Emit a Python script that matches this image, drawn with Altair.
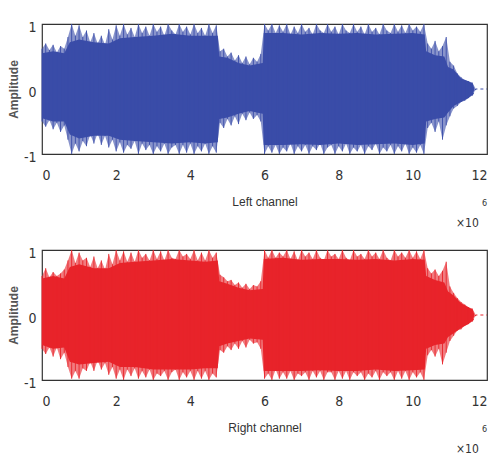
import altair as alt
import pandas as pd

# Sample index in millions (0.1 M steps) and the per-step peak amplitudes
t_millions = [round(i * 0.1, 1) for i in range(121)]

left_upper = [
    0.62, 0.70, 0.60, 0.68, 0.56, 0.66, 0.62, 0.80, 1.00, 0.82,
    0.98, 0.80, 0.90, 0.72, 0.86, 0.70, 0.82, 0.68, 0.92, 0.76,
    0.98, 0.82, 1.00, 0.84, 0.94, 0.80, 1.00, 0.86, 0.96, 0.82,
    1.00, 0.88, 0.96, 0.82, 1.00, 0.90, 0.84, 1.00, 0.88, 0.96,
    0.84, 1.00, 0.86, 0.94, 0.82, 1.00, 0.86, 0.98, 0.58, 0.62,
    0.50, 0.56, 0.44, 0.52, 0.40, 0.50, 0.38, 0.48, 0.42, 0.54,
    1.00, 0.90, 1.00, 0.86, 0.98, 0.88, 1.00, 0.84, 0.96, 0.86,
    1.00, 0.88, 0.94, 0.84, 1.00, 0.90, 0.86, 1.00, 0.88, 0.96,
    0.84, 1.00, 0.90, 0.86, 1.00, 0.88, 0.96, 0.84, 1.00, 0.88,
    0.94, 0.84, 1.00, 0.90, 0.86, 1.00, 0.88, 0.98, 0.86, 1.00,
    0.90, 0.96, 0.88, 1.00, 0.70, 0.62, 0.74, 0.58, 0.66, 0.80,
    0.42, 0.36, 0.24, 0.18, 0.14, 0.12, 0.10, 0.00, 0.00, 0.00,
    0.00,
]
left_lower = [
    -0.50, -0.58, -0.48, -0.62, -0.52, -0.66, -0.56, -0.78, -1.00, -0.84,
    -0.96, -0.80, -0.88, -0.70, -0.84, -0.68, -0.86, -0.72, -0.90, -0.78,
    -0.96, -0.82, -0.98, -0.86, -0.92, -0.80, -1.00, -0.84, -0.94, -0.86,
    -1.00, -0.88, -0.96, -0.84, -1.00, -0.90, -0.86, -1.00, -0.86, -0.98,
    -0.84, -1.00, -0.88, -0.96, -0.84, -1.00, -0.88, -0.98, -0.52, -0.60,
    -0.46, -0.56, -0.42, -0.54, -0.38, -0.48, -0.36, -0.46, -0.40, -0.50,
    -1.00, -0.88, -0.98, -0.86, -1.00, -0.90, -0.96, -0.84, -1.00, -0.88,
    -0.96, -0.86, -1.00, -0.88, -0.94, -0.84, -1.00, -0.90, -0.86, -1.00,
    -0.88, -0.96, -0.84, -1.00, -0.90, -0.96, -0.86, -1.00, -0.88, -0.94,
    -0.84, -1.00, -0.90, -0.96, -0.86, -1.00, -0.88, -0.96, -0.84, -1.00,
    -0.90, -0.98, -0.86, -1.00, -0.60, -0.52, -0.66, -0.50, -0.78, -0.56,
    -0.42, -0.30, -0.26, -0.20, -0.18, -0.14, -0.10, 0.00, 0.00, 0.00,
    0.00,
]
right_upper = [
    0.60, 0.72, 0.58, 0.66, 0.60, 0.64, 0.70, 0.84, 1.00, 0.80,
    0.96, 0.84, 0.88, 0.74, 0.90, 0.72, 0.84, 0.70, 0.94, 0.78,
    1.00, 0.84, 0.98, 0.82, 0.96, 0.82, 1.00, 0.88, 0.94, 0.84,
    1.00, 0.86, 0.98, 0.84, 1.00, 0.88, 0.86, 1.00, 0.90, 0.94,
    0.86, 1.00, 0.84, 0.96, 0.84, 1.00, 0.88, 0.96, 0.62, 0.58,
    0.52, 0.54, 0.46, 0.50, 0.42, 0.48, 0.40, 0.46, 0.44, 0.52,
    1.00, 0.88, 1.00, 0.88, 0.96, 0.90, 1.00, 0.86, 0.98, 0.84,
    1.00, 0.90, 0.96, 0.86, 1.00, 0.88, 0.84, 1.00, 0.90, 0.94,
    0.86, 1.00, 0.88, 0.84, 1.00, 0.90, 0.94, 0.86, 1.00, 0.90,
    0.96, 0.86, 1.00, 0.88, 0.84, 1.00, 0.90, 0.96, 0.88, 1.00,
    0.88, 0.98, 0.86, 1.00, 0.72, 0.64, 0.70, 0.60, 0.68, 0.82,
    0.44, 0.34, 0.26, 0.20, 0.16, 0.12, 0.10, 0.00, 0.00, 0.00,
    0.00,
]
right_lower = [
    -0.52, -0.60, -0.50, -0.64, -0.50, -0.68, -0.58, -0.80, -0.98, -0.86,
    -0.98, -0.82, -0.86, -0.72, -0.86, -0.70, -0.84, -0.74, -0.92, -0.80,
    -0.98, -0.84, -1.00, -0.84, -0.94, -0.82, -0.98, -0.86, -0.96, -0.84,
    -1.00, -0.90, -0.94, -0.86, -1.00, -0.88, -0.84, -1.00, -0.88, -0.96,
    -0.86, -1.00, -0.86, -0.98, -0.86, -1.00, -0.90, -0.96, -0.54, -0.58,
    -0.48, -0.54, -0.44, -0.52, -0.40, -0.50, -0.38, -0.44, -0.42, -0.52,
    -0.98, -0.90, -1.00, -0.84, -0.98, -0.88, -0.98, -0.86, -1.00, -0.90,
    -0.94, -0.88, -1.00, -0.86, -0.96, -0.86, -1.00, -0.88, -0.88, -1.00,
    -0.86, -0.98, -0.86, -1.00, -0.88, -0.94, -0.88, -1.00, -0.90, -0.96,
    -0.86, -1.00, -0.88, -0.94, -0.88, -1.00, -0.86, -0.98, -0.86, -1.00,
    -0.88, -0.96, -0.88, -1.00, -0.62, -0.54, -0.64, -0.52, -0.76, -0.58,
    -0.40, -0.32, -0.24, -0.22, -0.16, -0.14, -0.10, 0.00, 0.00, 0.00,
    0.00,
]

# Solid core of the waveform (the dense part under the peaks)
core_t = [
    0.0, 0.3, 0.6, 0.75, 1.0, 1.4, 1.8, 2.1, 2.5, 3.0,
    3.5, 4.0, 4.4, 4.74, 4.78, 5.0, 5.3, 5.6, 5.95, 5.98,
    6.5, 7.0, 7.5, 8.0, 8.5, 9.0, 9.5, 10.0, 10.32, 10.36,
    10.6, 10.85, 10.95, 11.1, 11.3, 11.5, 11.62, 11.66,
]
left_core_hi = [
    0.55, 0.58, 0.55, 0.72, 0.76, 0.72, 0.70, 0.78, 0.80, 0.82,
    0.85, 0.82, 0.82, 0.82, 0.50, 0.48, 0.40, 0.36, 0.40, 0.86,
    0.86, 0.84, 0.86, 0.85, 0.86, 0.84, 0.85, 0.86, 0.84, 0.58,
    0.52, 0.50, 0.34, 0.30, 0.16, 0.12, 0.08, 0.00,
]
left_core_lo = [
    -0.45, -0.50, -0.50, -0.70, -0.76, -0.72, -0.72, -0.78, -0.80, -0.82,
    -0.84, -0.82, -0.84, -0.82, -0.46, -0.44, -0.38, -0.34, -0.38, -0.86,
    -0.86, -0.85, -0.86, -0.84, -0.86, -0.85, -0.84, -0.86, -0.84, -0.50,
    -0.46, -0.44, -0.36, -0.26, -0.20, -0.14, -0.08, 0.00,
]
right_core_hi = [
    0.56, 0.60, 0.56, 0.74, 0.78, 0.72, 0.72, 0.80, 0.82, 0.84,
    0.86, 0.84, 0.82, 0.84, 0.52, 0.48, 0.42, 0.38, 0.40, 0.86,
    0.88, 0.85, 0.86, 0.86, 0.85, 0.86, 0.84, 0.86, 0.85, 0.60,
    0.54, 0.50, 0.36, 0.30, 0.18, 0.12, 0.08, 0.00,
]
right_core_lo = [
    -0.46, -0.52, -0.50, -0.72, -0.76, -0.74, -0.72, -0.80, -0.80, -0.84,
    -0.84, -0.84, -0.82, -0.82, -0.48, -0.44, -0.40, -0.36, -0.38, -0.86,
    -0.86, -0.86, -0.85, -0.86, -0.86, -0.84, -0.86, -0.85, -0.84, -0.52,
    -0.46, -0.44, -0.34, -0.28, -0.20, -0.14, -0.08, 0.00,
]

x_ticks = [0, 2, 4, 6, 8, 10, 12]
y_ticks = [-1, 0, 1]

NARROW = "Liberation Sans Narrow, DejaVu Sans Condensed, sans-serif"
TEXT_COLOR = "#333333"


def x_enc(field, label):
    return alt.X(
        field,
        type="quantitative",
        scale=alt.Scale(domain=[0, 12], nice=False, zero=False),
        axis=alt.Axis(
            values=x_ticks, format="d", title=label, grid=False, domain=False,
            ticks=False, labelPadding=14, labelFont=NARROW, labelFontSize=14,
            labelColor=TEXT_COLOR, titleFont="Liberation Sans", titleFontSize=12,
            titleFontWeight="normal", titleColor=TEXT_COLOR,
            titleBaseline="alphabetic", titleY=51,
        ),
    )


def y_enc(field):
    return alt.Y(
        field,
        type="quantitative",
        scale=alt.Scale(domain=[-1, 1], nice=False),
        axis=alt.Axis(
            values=y_ticks, labelExpr="'' + datum.value", labelOverlap=False,
            title="Amplitude", grid=False, domain=False, ticks=False,
            labelPadding=6, labelOffset=3, labelFont=NARROW, labelFontSize=14,
            labelColor=TEXT_COLOR, titleFont="Liberation Sans", titleFontSize=12,
            titleFontWeight="bold", titleColor="#555555", titlePadding=3,
        ),
    )


def channel_panel(upper, lower, core_hi, core_lo, color, label):
    peaks = pd.DataFrame({"t": t_millions, "hi": upper, "lo": lower})
    core = pd.DataFrame({"t": core_t, "hi": core_hi, "lo": core_lo})

    # faint envelope through the peaks, then the solid core, then the spikes
    halo = alt.Chart(peaks).mark_area(color=color, opacity=0.6, interpolate="linear").encode(
        x=x_enc("t", label), y=y_enc("hi"), y2="lo"
    )
    body = alt.Chart(core).mark_area(color=color, opacity=1, interpolate="linear").encode(
        x=x_enc("t", label), y=y_enc("hi"), y2="lo"
    )
    spikes = alt.Chart(peaks).mark_rule(color=color, strokeWidth=1, opacity=0.9).encode(
        x=x_enc("t", label), y=y_enc("hi"), y2="lo"
    )
    # silent tail after the fade-out
    tail = (
        alt.Chart(peaks)
        .transform_filter("datum.t >= 11.6")
        .mark_line(color=color, strokeWidth=1, strokeDash=[3, 3])
        .encode(x=x_enc("t", label), y=y_enc("lo"))
    )
    exp_base = alt.Chart(pd.DataFrame({"s": ["×10"]})).mark_text(
        align="left", baseline="alphabetic", fontSize=12, font=NARROW, color=TEXT_COLOR
    ).encode(x=alt.value(414), y=alt.value(203), text="s:N")
    exp_pow = alt.Chart(pd.DataFrame({"s": ["6"]})).mark_text(
        align="left", baseline="alphabetic", fontSize=9, font=NARROW, color=TEXT_COLOR
    ).encode(x=alt.value(440), y=alt.value(182), text="s:N")
    return alt.layer(halo, body, spikes, tail, exp_base, exp_pow).properties(width=445, height=130)


top = channel_panel(left_upper, left_lower, left_core_hi, left_core_lo, "#3a4ca8", "Left channel")
bottom = channel_panel(right_upper, right_lower, right_core_hi, right_core_lo, "#e8232a", "Right channel")

chart = (
    alt.vconcat(top, bottom, spacing=96, bounds="flush")
    .properties(
        padding={"left": 6, "top": 19, "right": 0, "bottom": 0},
        background="white",
    )
    .configure_view(stroke="#333333", strokeWidth=1.2)
)

chart.save("out.html", embed_options={"renderer": "svg", "actions": False})
